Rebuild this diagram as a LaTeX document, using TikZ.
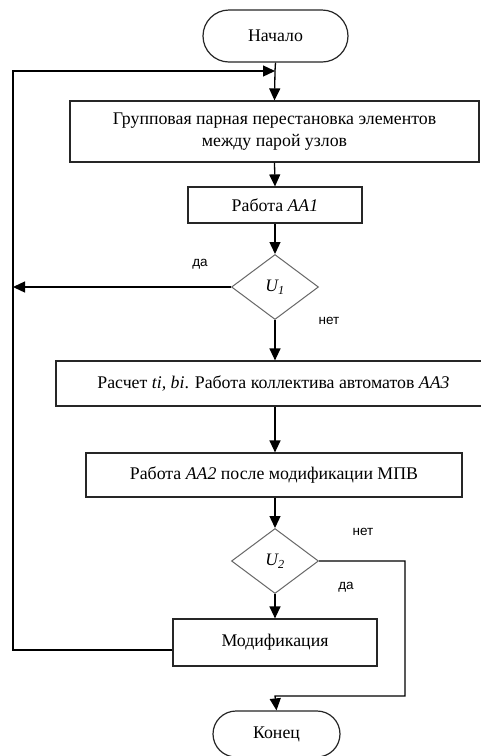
\documentclass[tikz,border=0pt]{standalone}
\usepackage{fontspec}
\setmainfont{Liberation Serif}
\newfontfamily\lblfont{Liberation Sans}
\usetikzlibrary{arrows.meta,shapes.geometric}
\begin{document}
\begin{tikzpicture}[x=1pt,y=-1pt,
  box/.style={draw=black!85,line width=1.2pt,inner sep=0pt,font=\fontsize{17.8}{22}\selectfont,align=center},
  term/.style={box,rounded corners=23pt},
  dec/.style={draw=black!60,line width=1pt,diamond,inner sep=0pt,minimum width=87pt,minimum height=65pt,font=\fontsize{17.5}{20}\selectfont\itshape},
  conn/.style={line width=1.3pt,draw=black},
  arr/.style={conn,-{Triangle[length=12pt,width=11pt]}},
  lbl/.style={font=\lblfont\fontsize{13.5}{15}\selectfont,inner sep=0pt}]
\useasboundingbox (0,0) rectangle (481,756);
\clip (0,0) rectangle (481,756);
\fill[white] (0,0) rectangle (481,756);
\node[term,rounded corners=26pt,minimum width=145pt,minimum height=52pt] (start) at (275.5,36) {Начало};
\coordinate (J) at (275,71);
\node[box,minimum width=409pt,minimum height=61pt] (b1) at (274.5,131.5) {Групповая парная перестановка элементов\\между парой узлов};
\node[box,minimum width=174pt,minimum height=36pt] (b2) at (275,205) {Работа \textit{AA1}};
\node[dec] (u1) at (275,287) {U\textsubscript{1}};
\node[box,minimum width=427pt,minimum height=45pt] (b3) at (269.5,383.5) {};
\node[font=\fontsize{17.8}{22}\selectfont,inner sep=0pt] (t3) at (273.5,383.5) {Расчет \textit{ti, bi}. Работа коллектива автоматов \textit{AA3}};
\node[box,minimum width=376pt,minimum height=44pt] (b4) at (274,475) {Работа \textit{AA2} после модификации МПВ};
\node[dec] (u2) at (275,561) {U\textsubscript{2}};
\node[box,minimum width=204pt,minimum height=47pt] (b5) at (275,642.5) {Модификация};
\node[term,minimum width=127pt,minimum height=46pt] (end) at (276.5,734) {Конец};
\coordinate (L1) at (13,287);
\coordinate (Lb) at (13,650);
\coordinate (Lt) at (13,71);
\coordinate (R1) at (405,561);
\coordinate (R2) at (405,696);
\coordinate (R3) at (275,696);
\draw[conn] (start.south) -- (J);
\draw[arr] (J) -- (b1.north);
\draw[arr] (b1.south) -- (b2.north);
\draw[arr] (b2.south) -- (u1.north);
\draw[arr] (u1.west) -- (L1);
\draw[arr] (u1.south) -- (b3.north -| u1.south);
\draw[arr] (b3.south -| u1.south) -- (b4.north -| u1.south);
\draw[arr] (b4.south -| u2.north) -- (u2.north);
\draw[arr] (u2.south) -- (b5.north);
\draw[arr] (b5.west |- Lb) -- (Lb) -- (Lt) -- (J);
\draw[arr] (u2.east) -- (R1) -- (R2) -- (R3) -- (end.north);
\node[lbl] (da1) at (200,264) {да};
\node[lbl] (net1) at (329,321) {нет};
\node[lbl] (net2) at (363,532) {нет};
\node[lbl] (da2) at (346,587) {да};
\end{tikzpicture}
\end{document}
